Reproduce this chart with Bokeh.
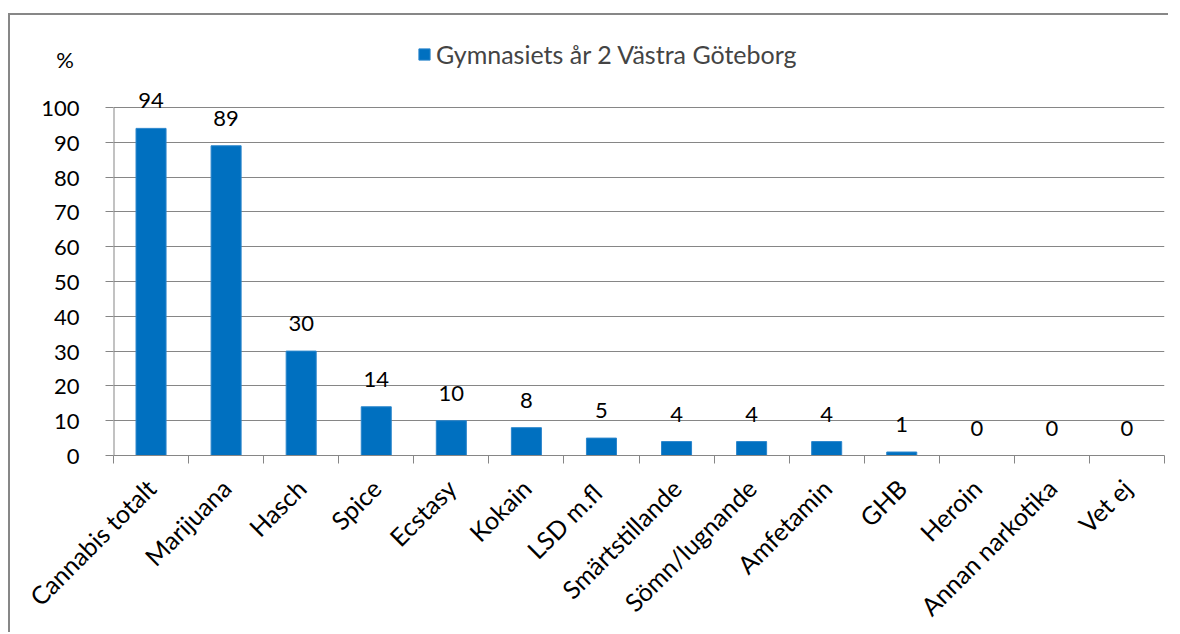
import math
from bokeh.plotting import figure
from bokeh.models import (ColumnDataSource, FixedTicker, Range1d, LabelSet,
                          Legend, LegendItem)
from bokeh.core.properties import value
from bokeh.embed import file_html
from bokeh.resources import INLINE

categories = ["Cannabis totalt", "Marijuana", "Hasch", "Spice", "Ecstasy", "Kokain",
              "LSD  m.fl", "Smärtstillande", "Sömn/lugnande", "Amfetamin", "GHB",
              "Heroin", "Annan narkotika", "Vet ej"]
values = [94, 89, 30, 14, 10, 8, 5, 4, 4, 4, 1, 0, 0, 0]
y_ticks = [0, 10, 20, 30, 40, 50, 60, 70, 80, 90, 100]
series_name = "Gymnasiets år 2 Västra Göteborg"
unit_label = "%"

FONT = "Lato"
GRAY = "#868686"
BLUE = "#0070C0"

# layout constants (pixels)
FRAME_H = 435
PX_PER_UNIT = 3.48
Y_TOP = FRAME_H / PX_PER_UNIT          # extra room above 100 for legend / labels
UNIT_Y = 113.8                          # vertical position of the "%" caption

xs = [i + 0.5 for i in range(len(categories))]
src = ColumnDataSource(dict(x=xs, val=values, lbl=[str(v) for v in values]))

p = figure(width=1160, height=619,
           x_range=Range1d(0, len(categories)), y_range=Range1d(0, Y_TOP),
           output_backend="svg", toolbar_location=None,
           min_border_left=103, min_border_right=6, min_border_top=5,
           min_border_bottom=179,
           styles={"border-top": "2px solid #878787",
                   "border-left": "2px solid #878787",
                   "margin-top": "13px", "margin-left": "8px"})
p.outline_line_color = None
p.background_fill_color = "white"
p.border_fill_color = "white"

r = p.vbar(x="x", top="val", width=0.4, source=src,
           fill_color=BLUE, line_color="#2b86cc", line_width=1)

# x axis
xa = p.xaxis[0]
xa.ticker = FixedTicker(ticks=xs, minor_ticks=list(range(len(categories) + 1)))
xa.major_label_overrides = {x: c for x, c in zip(xs, categories)}
xa.major_label_orientation = math.pi / 4
xa.major_tick_out = 0
xa.major_tick_in = 0
xa.minor_tick_out = 8
xa.minor_tick_in = 0
xa.minor_tick_line_color = GRAY
xa.axis_line_color = GRAY
xa.major_label_text_font = FONT
xa.major_label_text_font_size = "25px"
xa.major_label_text_color = "black"
xa.major_label_standoff = 20

# y axis: numeric labels plus the "%" caption; tick marks drawn as minor ticks
ya = p.yaxis[0]
ya.ticker = FixedTicker(ticks=y_ticks + [UNIT_Y], minor_ticks=y_ticks)
ya.major_label_overrides = {UNIT_Y: unit_label + "\u00a0"}
ya.major_tick_out = 0
ya.major_tick_in = 0
ya.minor_tick_out = 8
ya.minor_tick_in = 0
ya.minor_tick_line_color = GRAY
ya.axis_line_color = None
ya.major_label_text_font = FONT
ya.major_label_text_font_size = "22px"
ya.major_label_text_color = "black"
ya.major_label_standoff = 26

# y axis line, from 0 to 100 only
p.segment(x0=0, y0=y_ticks[0], x1=0, y1=y_ticks[-1], line_color=GRAY, line_width=2)

p.xgrid.visible = False
p.ygrid.grid_line_color = GRAY
p.ygrid.ticker = FixedTicker(ticks=y_ticks)

labels = LabelSet(x="x", y="val", text="lbl", source=src, text_align="center",
                  text_baseline="alphabetic", y_offset=20,
                  text_font=value(FONT), text_font_size="22px", text_color="black")
p.add_layout(labels)

legend = Legend(items=[LegendItem(label=series_name, renderers=[r])],
                location=(304, 386), orientation="horizontal",
                padding=0, margin=0, spacing=0, label_standoff=5,
                glyph_width=14, glyph_height=14,
                label_text_font=FONT, label_text_font_size="25px",
                border_line_color=None, background_fill_alpha=0)
p.add_layout(legend, "center")

open("out.html", "w").write(file_html(p, INLINE))
